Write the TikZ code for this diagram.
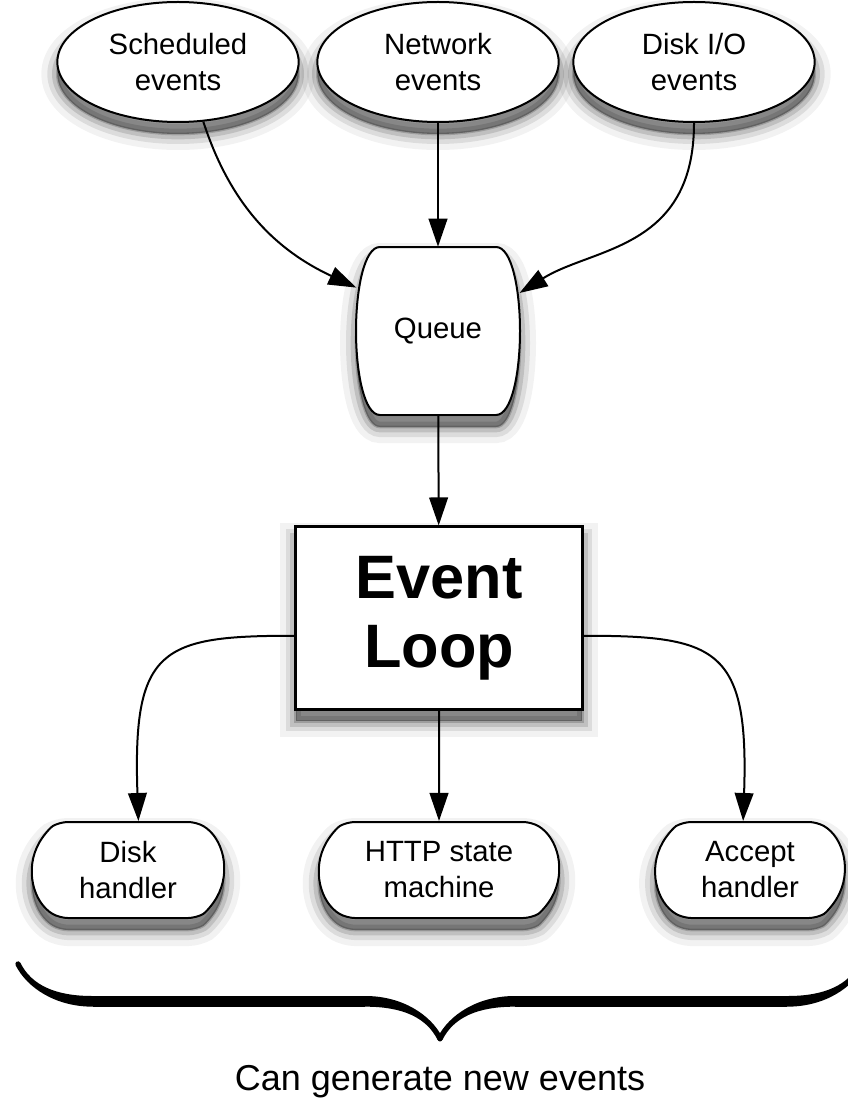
\documentclass[tikz,border=0pt]{standalone}
\usepackage{fontspec}
\setmainfont{Liberation Sans}
\usetikzlibrary{shapes.geometric,shapes.misc,arrows.meta,decorations.pathreplacing,calligraphy,shadows}

\tikzset{
  soft/.style={
    general shadow={fill=black, draw=black, opacity=0.05, line width=24pt, shadow xshift=0pt, shadow yshift=-9pt},
    general shadow={fill=black, draw=black, opacity=0.09, line width=15pt, shadow xshift=0pt, shadow yshift=-9pt},
    general shadow={fill=black, draw=black, opacity=0.13, line width=8pt, shadow xshift=0pt, shadow yshift=-9pt},
    general shadow={fill=black, draw=black, opacity=0.18, line width=2pt, shadow xshift=0pt, shadow yshift=-9pt}},
  txt/.style={align=center, font=\fontsize{22}{27}\selectfont},
  src/.style={ellipse, draw, line width=1.5pt, fill=white, soft, txt, inner sep=0pt,
    minimum width=181pt, minimum height=90pt},
  barrel/.style={rounded rectangle, rounded rectangle arc length=120, rounded corners=6pt, draw, line width=1.5pt,
    fill=white, soft, txt, inner sep=0pt, minimum height=72pt},
  flow/.style={line width=1.5pt, -{Triangle[length=21pt,width=14pt]}}
}

\begin{document}
\begin{tikzpicture}[x=0.75pt, y=-0.75pt]
    \useasboundingbox (0,0) rectangle (848,1098);
    \node [src] (sched) at (178, 62) {Scheduled\\events};
    \node [src] (net) at (438, 62) {Network\\events};
    \node [src] (dio) at (694, 62) {Disk I/O\\events};
    % queue outline, sides bulging out
    \draw [line width=1.5pt, fill=white, soft] (380,247) -- (496,247)
      .. controls (512,247) and (520,290) .. (520,331)
      .. controls (520,372) and (512,415) .. (496,415) -- (380,415)
      .. controls (364,415) and (356,372) .. (356,331)
      .. controls (356,290) and (364,247) .. (380,247) -- cycle;
    \node [txt, minimum width=122pt, minimum height=126pt] (q) at (438, 331) {Queue};
    \node [rectangle, draw, line width=1.8pt, fill=white, soft, minimum width=215pt, minimum height=137pt,
      align=center, font=\bfseries\fontsize{46}{52}\selectfont] (loop) at (439, 618) {Event\\Loop};
    \node [barrel, minimum width=144pt] (dh) at (128, 870) {Disk\\handler};
    \node [barrel, minimum width=180pt] (http) at (439, 870) {HTTP state\\machine};
    \node [barrel, minimum width=142pt] (ah) at (750, 870) {Accept\\handler};
    \draw [flow] (sched.-67) to[out=-72, in=155] (q.152);
    \draw [flow] (net) -- (q);
    \draw [flow] (dio.south) to[out=-90, in=32, out distance=95pt, in distance=65pt] (q.25);
    \draw [flow] (q) -- (loop);
    \draw [flow] (loop.187) to[out=180, in=92, out distance=100pt, in distance=130pt] (dh.78);
    \draw [flow] (loop) -- (http);
    \draw [flow] (loop.-7) to[out=0, in=88, out distance=100pt, in distance=130pt] (ah.98);
    % brace under the handlers
    \coordinate (bl) at (18, 964);
    \coordinate (br) at (862, 964);
    \draw [decorate, decoration={calligraphic brace, amplitude=56pt}, line width=8pt] (br) -- (bl);
    \node [anchor=base, font=\fontsize{27}{32}\selectfont] (gen) at (440, 1090) {Can generate new events};
\end{tikzpicture}
\end{document}
